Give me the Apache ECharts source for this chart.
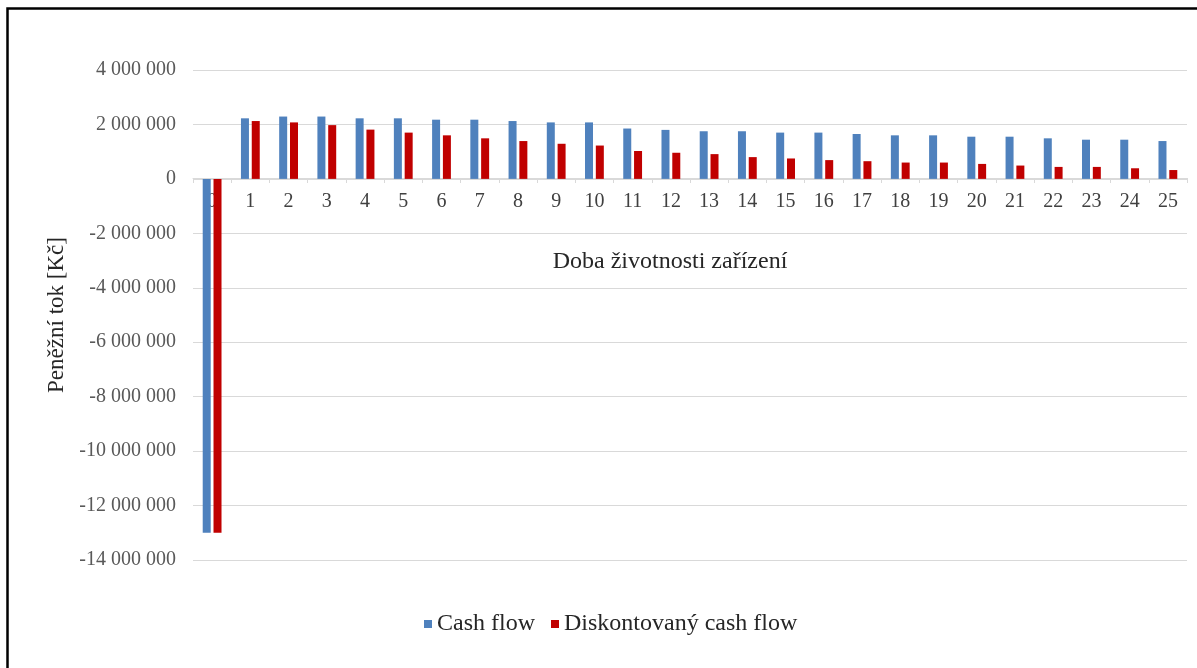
<!DOCTYPE html>
<html>
<head>
<meta charset="utf-8">
<script src="https://cdn.jsdelivr.net/npm/echarts@6/dist/echarts.min.js"></script>
<style>
html,body{margin:0;padding:0;background:#fff;}
#chart{width:1197px;height:668px;}
</style>
</head>
<body>
<div id="chart"></div>
<script>
const categories = ['0','1','2','3','4','5','6','7','8','9','10','11','12','13','14','15','16','17','18','19','20','21','22','23','24','25'];
const cashFlow = [-13000000, 2225000, 2290000, 2290000, 2225000, 2225000, 2175000, 2175000, 2125000, 2075000, 2075000, 1850000, 1800000, 1750000, 1750000, 1700000, 1700000, 1650000, 1600000, 1600000, 1550000, 1550000, 1490000, 1440000, 1440000, 1390000];
const discountedCashFlow = [-13000000, 2125000, 2075000, 1975000, 1810000, 1700000, 1600000, 1490000, 1390000, 1290000, 1225000, 1025000, 960000, 910000, 800000, 750000, 690000, 650000, 600000, 600000, 550000, 490000, 440000, 440000, 390000, 325000];
const seriesNames = ['Cash flow', 'Diskontovaný cash flow'];
const xAxisTitle = 'Doba životnosti zařízení';
const yAxisTitle = 'Peněžní tok [Kč]';
const yMin = -14000000, yMax = 4000000, yStep = 2000000;

const FONT = '"Liberation Serif", "Times New Roman", serif';
function fmt(v){
  const neg = v < 0;
  let s = String(Math.abs(v)).replace(/\B(?=(\d{3})+(?!\d))/g, ' ');
  return (neg ? '-' : '') + s;
}

const chart = echarts.init(document.getElementById('chart'));
chart.setOption({
  backgroundColor: '#ffffff',
  animation: false,
  textStyle: { fontFamily: FONT },
  grid: { left: 193, right: 10, top: 70, bottom: 108, containLabel: false },
  legend: {
    data: seriesNames,
    left: 419, top: 607,
    itemWidth: 8, itemHeight: 8, itemGap: 16,
    icon: 'rect',
    textStyle: { fontFamily: FONT, fontSize: 24, color: '#262626' }
  },
  xAxis: {
    type: 'category',
    data: categories,
    position: 'bottom',
    offset: -382,
    axisLine: { onZero: false, lineStyle: { color: '#d9d9d9', width: 1 } },
    axisTick: { show: true, length: 5, lineStyle: { color: '#d9d9d9' } },
    axisLabel: { fontFamily: FONT, fontSize: 20, color: '#404040', margin: 14, interval: 0 },
    splitLine: { show: false }
  },
  yAxis: {
    type: 'value',
    min: yMin, max: yMax, interval: yStep,
    name: yAxisTitle,
    nameLocation: 'middle',
    nameGap: 125,
    nameTextStyle: { fontFamily: FONT, fontSize: 23, color: '#262626' },
    axisLine: { show: false },
    axisTick: { show: false },
    axisLabel: { fontFamily: FONT, fontSize: 20, color: '#595959', margin: 17, formatter: fmt },
    splitLine: { lineStyle: { color: '#d9d9d9', width: 1 } }
  },
  series: [
    { name: seriesNames[0], type: 'bar', data: cashFlow, barWidth: 8, barGap: '35%', itemStyle: { color: '#4f81bd' } },
    { name: seriesNames[1], type: 'bar', data: discountedCashFlow, barWidth: 8, itemStyle: { color: '#c00000' } }
  ],
  graphic: [
    { type: 'text', x: 670, y: 262, z: 10,
      style: { text: xAxisTitle, fontFamily: FONT, fontSize: 24, fill: '#262626', textAlign: 'center', textVerticalAlign: 'middle' } },
    { type: 'rect', z: 20, silent: true,
      shape: { x: 7.5, y: 8.5, width: 1300, height: 800 },
      style: { fill: 'none', stroke: '#000000', lineWidth: 2.5 } }
  ]
});
</script>
</body>
</html>
